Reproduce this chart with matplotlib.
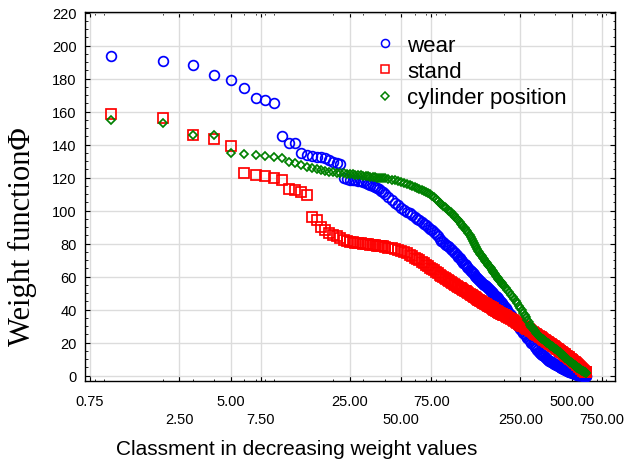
#!/usr/bin/env python3
"""Weight function vs. rank (log x) for wear, stand and cylinder position."""

import matplotlib
matplotlib.use("Agg")
import matplotlib.pyplot as plt
from matplotlib.ticker import FixedLocator, LogLocator, NullFormatter, MultipleLocator


# rank positions: every rank up to 40, then sparser where the markers merge
RANKS = (list(range(1, 41)) + list(range(42, 101, 2))
         + list(range(102, 201, 2)) + list(range(205, 611, 5)))

WEAR = [
    193.4, 190.7, 188.3, 182.0, 179.0, 174.0, 168.5, 167.0, 165.0, 145.0,
    141.0, 140.8, 135.0, 133.5, 133.0, 132.5, 132.2, 131.6, 130.5, 129.5,
    129.0, 128.5, 120.0, 119.0, 118.6, 118.4, 118.2, 118.0, 117.6, 117.2,
    116.8, 116.2, 115.6, 115.0, 114.2, 113.6, 112.8, 112.0, 111.0, 110.0,
    # 42..100 step 2
    108.2, 106.5, 104.8, 103.1, 101.5, 100.4, 99.3, 98.2, 97.1, 96.0,
    95.0, 94.0, 93.0, 92.0, 91.0, 90.0, 89.0, 88.0, 86.8, 85.6,
    84.4, 83.0, 81.6, 80.8, 80.0, 79.2, 78.4, 77.6, 76.8, 76.0,
    # 102..200 step 2
    75.0, 74.0, 73.0, 72.0, 71.0, 70.1, 69.3, 68.4, 67.5, 66.7,
    65.8, 64.9, 64.1, 63.4, 62.7, 62.0, 61.3, 60.6, 59.9, 59.2,
    58.5, 57.9, 57.4, 56.8, 56.2, 55.7, 55.1, 54.6, 54.0, 53.4,
    52.8, 52.3, 51.7, 51.2, 50.6, 50.1, 49.5, 49.0, 48.5, 47.9,
    47.4, 46.8, 46.3, 45.7, 45.2, 44.6, 44.1, 43.5, 43.0, 42.4,
    # 205..610 step 5
    40.9, 39.5, 38.0, 36.5, 35.1, 33.7, 32.3, 30.8, 29.4, 28.0,
    27.0, 26.0, 25.0, 24.0, 23.0, 22.0, 21.0, 20.0, 19.1, 18.2,
    17.3, 16.4, 15.5, 14.5, 13.8, 13.3, 12.7, 12.2, 11.7, 11.1,
    10.6, 10.1, 9.5, 9.0, 8.6, 8.3, 7.9, 7.6, 7.2, 6.8,
    6.5, 6.1, 5.7, 5.5, 5.2, 5.0, 4.7, 4.5, 4.2, 4.0,
    3.7, 3.5, 3.2, 3.0, 2.7, 2.5, 2.3, 2.2, 2.0, 1.9,
    1.7, 1.5, 1.4, 1.2, 1.1, 0.9, 0.8, 0.6, 0.5, 0.5,
    0.4, 0.3, 0.3, 0.2, 0.1, 0.1, 0.0, 0.0, 0.0, 0.0,
    0.0, 0.0,
]

STAND = [
    158.7, 156.3, 146.0, 143.6, 139.0, 123.0, 121.8, 121.0, 120.0, 118.6,
    112.8, 112.4, 111.4, 109.6, 96.0, 94.0, 89.8, 88.4, 86.6, 85.2,
    84.4, 83.2, 82.2, 81.6, 81.2, 80.9, 80.6, 80.4, 80.2, 80.0,
    79.8, 79.6, 79.4, 79.2, 79.0, 78.8, 78.6, 78.4, 78.2, 78.0,
    # 42..100 step 2
    77.5, 77.0, 76.5, 76.0, 75.5, 74.8, 74.0, 73.2, 72.4, 71.5,
    70.6, 69.8, 68.9, 68.0, 67.2, 66.3, 65.4, 64.6, 63.7, 62.8,
    62.0, 61.2, 60.4, 59.7, 59.0, 58.3, 57.6, 57.0, 56.4, 55.8,
    # 102..200 step 2
    55.3, 54.8, 54.3, 53.8, 53.3, 52.8, 52.4, 51.9, 51.5, 51.0,
    50.5, 50.1, 49.6, 49.1, 48.7, 48.2, 47.8, 47.4, 46.9, 46.5,
    46.0, 45.6, 45.3, 44.9, 44.6, 44.2, 43.9, 43.5, 43.2, 42.8,
    42.4, 42.1, 41.7, 41.4, 41.0, 40.7, 40.3, 40.0, 39.6, 39.2,
    38.9, 38.5, 38.2, 37.9, 37.7, 37.5, 37.2, 37.0, 36.8, 36.5,
    # 205..610 step 5
    35.9, 35.4, 34.8, 34.2, 33.6, 33.1, 32.5, 31.9, 31.4, 30.8,
    30.3, 29.8, 29.3, 28.9, 28.4, 27.9, 27.4, 26.9, 26.4, 25.9,
    25.4, 25.0, 24.5, 24.0, 23.5, 23.1, 22.7, 22.3, 21.8, 21.4,
    21.0, 20.6, 20.1, 19.7, 19.3, 18.9, 18.4, 18.0, 17.6, 17.1,
    16.7, 16.3, 15.9, 15.5, 15.1, 14.7, 14.4, 14.0, 13.6, 13.3,
    12.9, 12.5, 12.1, 11.8, 11.4, 11.0, 10.7, 10.3, 9.9, 9.6,
    9.2, 8.8, 8.4, 8.1, 7.7, 7.3, 7.0, 6.6, 6.2, 5.8,
    5.4, 5.0, 4.6, 4.2, 3.8, 3.4, 3.0, 2.6, 2.4, 2.2,
    2.1, 2.0,
]

CYLINDER = [
    154.7, 153.0, 145.6, 145.6, 135.0, 134.4, 133.8, 132.8, 132.5, 131.8,
    129.5, 128.6, 127.6, 126.6, 125.8, 125.0, 124.4, 124.0, 123.6, 123.2,
    123.0, 122.8, 122.6, 122.4, 122.2, 122.0, 121.8, 121.6, 121.4, 121.2,
    121.0, 120.8, 120.6, 120.4, 120.2, 120.0, 119.9, 119.8, 119.6, 119.5,
    # 42..100 step 2
    119.1, 118.7, 118.3, 117.9, 117.4, 116.8, 116.1, 115.4, 114.7, 114.0,
    113.4, 112.8, 112.2, 111.6, 111.0, 110.4, 109.8, 109.0, 108.0, 106.8,
    105.6, 104.6, 103.8, 103.0, 102.2, 101.4, 100.6, 99.8, 98.9, 98.0,
    # 102..200 step 2
    97.0, 96.0, 95.0, 94.0, 93.0, 92.1, 91.2, 90.3, 89.4, 88.5,
    87.4, 86.2, 85.0, 83.8, 82.6, 81.5, 80.3, 79.1, 77.9, 76.7,
    75.5, 74.7, 73.8, 73.0, 72.2, 71.4, 70.5, 69.7, 68.9, 68.1,
    67.2, 66.4, 65.6, 64.9, 64.2, 63.5, 62.7, 62.0, 61.3, 60.5,
    59.8, 59.1, 58.4, 57.7, 57.2, 56.6, 56.1, 55.5, 55.0, 54.5,
    # 205..610 step 5
    53.1, 51.8, 50.4, 49.0, 47.7, 46.3, 45.0, 43.7, 42.3, 41.0,
    39.6, 38.1, 36.7, 35.2, 33.8, 32.3, 30.9, 29.6, 28.7, 27.8,
    26.9, 25.9, 25.0, 24.1, 23.3, 22.8, 22.4, 21.9, 21.4, 20.9,
    20.4, 20.0, 19.5, 19.0, 18.5, 18.1, 17.6, 17.2, 16.7, 16.3,
    15.8, 15.3, 14.9, 14.4, 14.0, 13.5, 13.1, 12.6, 12.2, 11.7,
    11.3, 10.8, 10.4, 9.9, 9.5, 9.0, 8.7, 8.3, 8.0, 7.6,
    7.3, 6.9, 6.6, 6.2, 5.9, 5.5, 5.2, 4.8, 4.5, 4.3,
    4.0, 3.8, 3.5, 3.2, 3.0, 2.7, 2.5, 2.2, 2.0, 1.9,
    1.7, 1.6,
]

SERIES = ["wear", "stand", "cylinder position"]
X_TICKS = [0.75, 2.5, 5, 7.5, 25, 50, 75, 250, 500, 750]
Y_TICKS = list(range(0, 221, 20))


def main():
    plt.rcParams.update({
        "font.family": ["Liberation Sans", "DejaVu Sans"],
        "font.size": 10,
    })

    fig = plt.figure(figsize=(6.27, 4.64), dpi=100)
    ax = fig.add_axes([85 / 627, 1 - 382.3 / 464, 530 / 627, 369.6 / 464])

    styles = [
        dict(marker="o", color="#0000ff", ms=7.0, leg_ms=5.8),
        dict(marker="s", color="#ff0000", ms=6.5, leg_ms=5.2),
        dict(marker="D", color="#008000", ms=4.1, leg_ms=3.8),
    ]
    for vals, label, st in zip([WEAR, STAND, CYLINDER], SERIES, styles):
        ax.plot(RANKS, vals, linestyle="none", marker=st["marker"],
                markersize=st["ms"], markerfacecolor="none",
                markeredgecolor=st["color"], markeredgewidth=1.25,
                label=label, zorder=3)

    ax.set_xscale("log")
    ax.set_xlim(0.70, 898)
    ax.set_ylim(-3.5, 220.5)

    ax.xaxis.set_major_locator(FixedLocator(X_TICKS))
    ax.set_xticklabels([f"{t:.2f}" for t in X_TICKS])
    ax.xaxis.set_minor_locator(LogLocator(base=10, subs="auto", numticks=20))
    ax.xaxis.set_minor_formatter(NullFormatter())

    ax.set_yticks(Y_TICKS)
    ax.yaxis.set_minor_locator(MultipleLocator(5))

    ax.tick_params(which="both", direction="in", top=True, right=True,
                   colors="black", labelsize=10.5)
    ax.tick_params(which="major", length=3.5, width=0.8)
    ax.tick_params(which="minor", length=1.8, width=0.6)
    ax.tick_params(axis="y", pad=6)
    # staggered x labels: every second label on a lower row
    for i, tick in enumerate(ax.xaxis.get_major_ticks()):
        tick.set_pad(9.5 if i % 2 == 0 else 22)

    ax.grid(True, which="major", color="#dcdcdc", linewidth=1.0, zorder=0)
    ax.set_axisbelow(True)
    for sp in ax.spines.values():
        sp.set_color("black")
        sp.set_linewidth(1.0)

    leg = ax.legend(loc="upper left", bbox_to_anchor=(0.541, 0.95),
                    frameon=False, fontsize=16,
                    handlelength=0.8, handletextpad=0.59, labelspacing=0.24,
                    borderaxespad=0.0, borderpad=0.2)
    for handle, st in zip(leg.legend_handles, styles):
        handle.set_markersize(st["leg_ms"])
        handle.set_markeredgewidth(1.1)

    fig.text(296.5 / 627, 1 - 450 / 464, "Classment in decreasing weight values",
             ha="center", va="center", fontsize=15)
    fig.text(22 / 627, 1 - 237 / 464, "Weight function\u03a6",
             ha="center", va="center", rotation=90, fontsize=22,
             family=["Liberation Serif", "DejaVu Serif"])

    fig.savefig("out.png", dpi=100)
    plt.close(fig)


if __name__ == "__main__":
    main()
